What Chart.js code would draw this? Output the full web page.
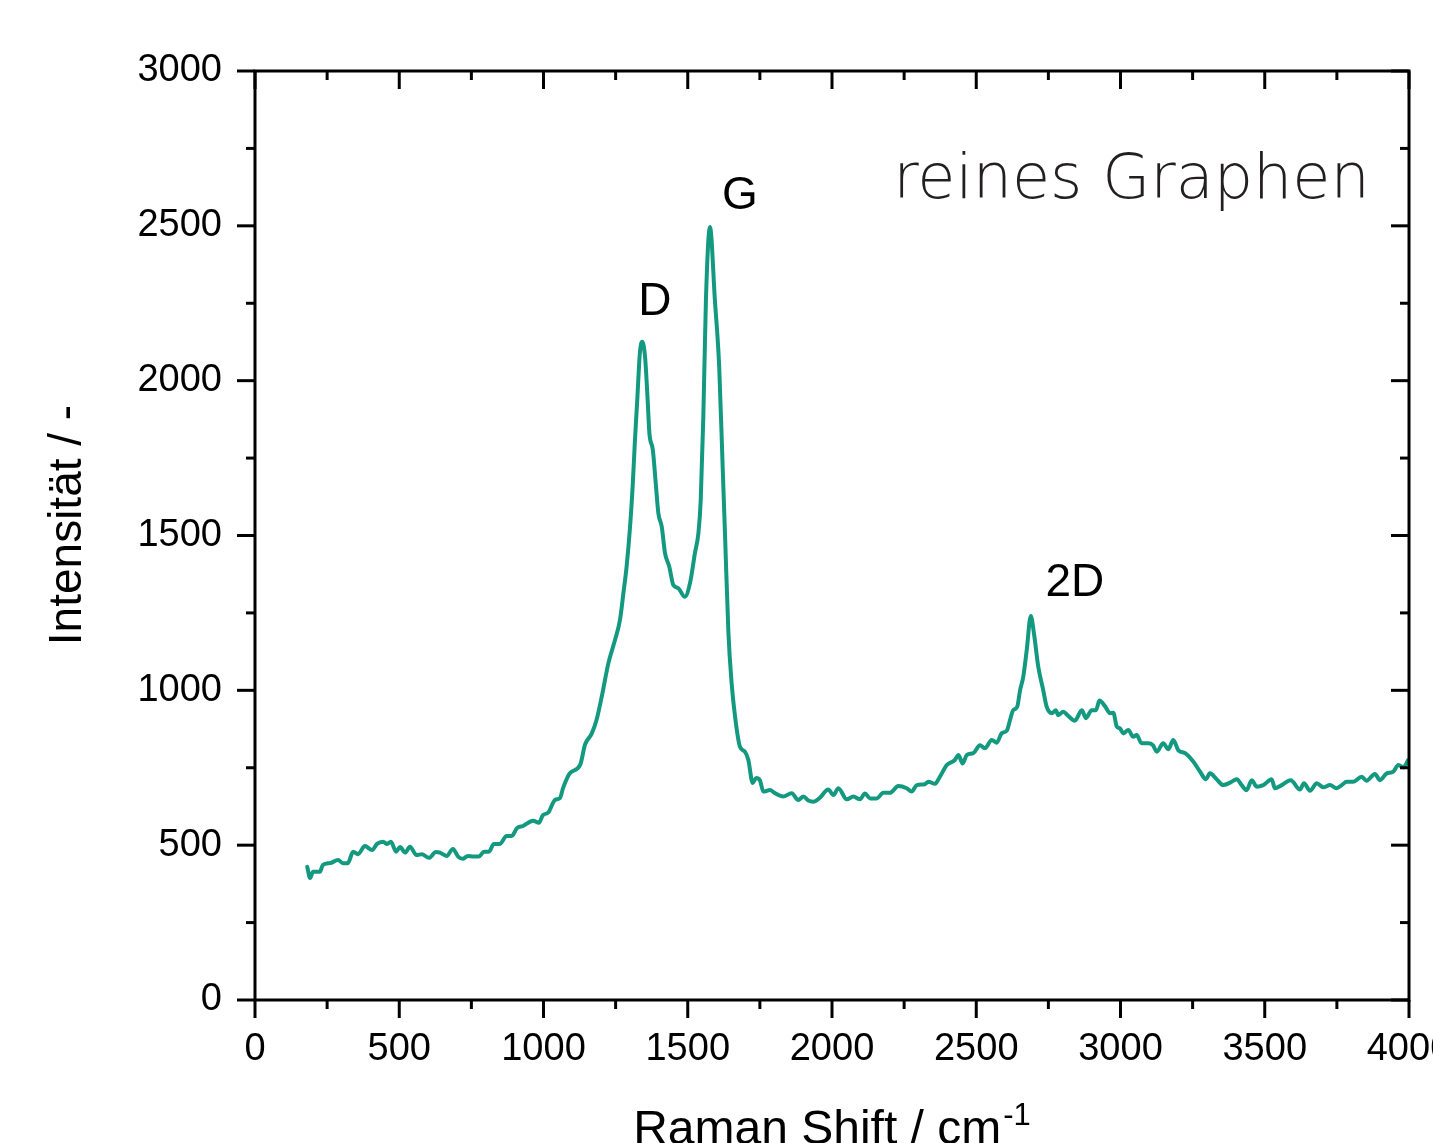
<!DOCTYPE html>
<html lang="de">
<head>
<meta charset="utf-8">
<title>Raman-Spektrum reines Graphen</title>
<script src="https://cdn.jsdelivr.net/npm/chart.js@4.4.1/dist/chart.umd.min.js"></script>
<style>
    html, body { margin: 0; padding: 0; background: #fff; overflow: hidden; }
    #wrap { width: 1480px; height: 1160px; }
</style>
</head>
<body>
<div id="wrap"><canvas id="ramanChart" width="1480" height="1160"></canvas></div>
<script>
// Raman shift (cm^-1) and intensity
const ramanShift = [
    181, 191, 201, 225, 235, 260, 288, 305, 322, 340, 357, 381, 406, 423, 444, 458, 471, 489, 503, 520,
    537, 560, 578, 603, 627, 641, 664, 686, 704, 720, 738, 756, 776, 794, 811, 828, 849, 872, 890, 908,
    929, 964, 984, 998, 1016, 1040, 1057, 1068, 1092, 1127, 1144, 1167, 1184, 1202, 1225, 1248, 1265, 1277, 1288, 1300,
    1309, 1317, 1325, 1334, 1342, 1352, 1361, 1367, 1379, 1390, 1398, 1410, 1421, 1436, 1450, 1467, 1490, 1508, 1525, 1537,
    1545, 1554, 1563, 1577, 1594, 1609, 1621, 1629, 1641, 1652, 1664, 1681, 1698, 1710, 1725, 1737, 1750, 1762, 1785, 1802,
    1831, 1860, 1883, 1901, 1918, 1935, 1958, 1987, 2005, 2022, 2051, 2074, 2097, 2114, 2132, 2155, 2178, 2201, 2230, 2259,
    2276, 2294, 2322, 2334, 2357, 2374, 2398, 2426, 2438, 2453, 2467, 2490, 2513, 2530, 2554, 2571, 2588, 2606, 2617, 2628,
    2642, 2652, 2663, 2675, 2689, 2700, 2715, 2732, 2744, 2762, 2776, 2784, 2802, 2816, 2842, 2866, 2880, 2900, 2915, 2927,
    2946, 2964, 2975, 2987, 2998, 3010, 3027, 3044, 3056, 3073, 3096, 3112, 3126, 3148, 3166, 3183, 3200, 3224, 3252, 3276,
    3296, 3310, 3333, 3356, 3380, 3403, 3420, 3437, 3455, 3472, 3495, 3524, 3535, 3559, 3590, 3622, 3636, 3657, 3680, 3703,
    3726, 3749, 3767, 3784, 3807, 3836, 3853, 3882, 3899, 3923, 3945, 3963, 3980, 3997
];
const intensity = [
    430, 394, 414, 414, 436, 442, 452, 442, 442, 479, 471, 497, 484, 504, 511, 504, 511, 479, 494, 476,
    495, 468, 471, 459, 478, 476, 465, 488, 463, 456, 465, 463, 463, 479, 479, 504, 504, 530, 530, 555,
    562, 579, 572, 597, 605, 646, 652, 685, 733, 759, 825, 860, 905, 980, 1088, 1163, 1227, 1314, 1399, 1528,
    1658, 1808, 1938, 2089, 2126, 2077, 1938, 1831, 1776, 1658, 1573, 1528, 1444, 1399, 1340, 1330, 1302, 1347, 1444, 1508,
    1615, 1884, 2261, 2496, 2261, 2045, 1722, 1508, 1185, 1024, 915, 818, 802, 775, 701, 717, 710, 673, 678, 668,
    657, 668, 646, 657, 644, 640, 653, 680, 662, 684, 648, 657, 648, 667, 651, 651, 669, 669, 691, 684,
    673, 694, 697, 705, 698, 721, 759, 775, 791, 764, 791, 797, 823, 813, 840, 831, 861, 870, 904, 936,
    947, 1001, 1044, 1130, 1240, 1184, 1076, 1001, 947, 926, 936, 920, 931, 920, 902, 936, 910, 936, 936, 967,
    949, 926, 928, 883, 877, 861, 872, 850, 856, 829, 829, 823, 802, 829, 810, 840, 807, 797, 770, 737,
    713, 732, 713, 694, 702, 713, 694, 678, 710, 689, 694, 713, 684, 694, 710, 680, 700, 676, 700, 687,
    694, 684, 694, 705, 705, 721, 708, 730, 710, 732, 737, 759, 751, 775
];

// axis ticks
const xTickValues = [0, 500, 1000, 1500, 2000, 2500, 3000, 3500, 4000];
const yTickValues = [0, 500, 1000, 1500, 2000, 2500, 3000];
const xMinorStep = 250;
const yMinorStep = 250;

// peak annotations (label, shift, intensity of label centre)
const peakNames = ['D', 'G', '2D'];
const peakLabelX = [1386, 1681, 2842];
const peakLabelY = [2254, 2596, 1347];

const sampleName = 'reines Graphen';
const sampleX = 3038;
const sampleY = 2590;

const FONT = "'Liberation Sans', Arial, Helvetica, sans-serif";
const lineColor = '#12997f';

const framePlugin = {
    id: 'frame',
    afterDatasetsDraw(chart) {
        const { ctx, chartArea: a, scales: { x, y } } = chart;
        ctx.save();
        ctx.strokeStyle = '#000';
        ctx.lineWidth = 3;
        ctx.lineCap = 'butt';

        function seg(x1, y1, x2, y2) {
            ctx.beginPath();
            ctx.moveTo(x1, y1);
            ctx.lineTo(x2, y2);
            ctx.stroke();
        }

        ctx.strokeRect(a.left, a.top, a.right - a.left, a.bottom - a.top);

        for (let v = x.min; v <= x.max; v += xMinorStep) {
            const px = x.getPixelForValue(v);
            const len = xTickValues.includes(v) ? 18 : 9;
            seg(px, a.bottom, px, a.bottom + len); // outward at bottom
            seg(px, a.top, px, a.top + len);       // inward at top
        }
        for (let v = y.min; v <= y.max; v += yMinorStep) {
            const py = y.getPixelForValue(v);
            const len = yTickValues.includes(v) ? 18 : 9;
            seg(a.left, py, a.left - len, py);     // outward at left
            seg(a.right, py, a.right - len, py);   // inward at right
        }

        // peak labels
        ctx.fillStyle = '#000';
        ctx.font = '46px ' + FONT;
        ctx.textAlign = 'center';
        ctx.textBaseline = 'middle';
        peakNames.forEach((name, i) => {
            ctx.fillText(name, x.getPixelForValue(peakLabelX[i]), y.getPixelForValue(peakLabelY[i]));
        });

        // sample name
        ctx.fillStyle = '#231f20';
        ctx.font = '200 62px "DejaVu Sans", sans-serif';
        ctx.textBaseline = 'alphabetic';
        ctx.fillText(sampleName, x.getPixelForValue(sampleX), y.getPixelForValue(sampleY));

        // y axis title
        ctx.fillStyle = '#000';
        ctx.font = '46px ' + FONT;
        ctx.save();
        ctx.translate(68, 525);
        ctx.rotate(-Math.PI / 2);
        ctx.textAlign = 'center';
        ctx.textBaseline = 'middle';
        ctx.fillText('Intensität / -', 0, 0);
        ctx.restore();

        // x axis title with superscript
        const main = 'Raman Shift / cm';
        const sup = '-1';
        ctx.textAlign = 'left';
        ctx.textBaseline = 'alphabetic';
        ctx.font = '48px ' + FONT;
        const wMain = ctx.measureText(main).width;
        ctx.font = '31px ' + FONT;
        const wSup = ctx.measureText(sup).width;
        const cx = (a.left + a.right) / 2;
        const startX = cx - (wMain + wSup + 2) / 2;
        ctx.font = '48px ' + FONT;
        ctx.fillText(main, startX, 1144);
        ctx.font = '31px ' + FONT;
        ctx.fillText(sup, startX + wMain + 2, 1125);

        ctx.restore();
    }
};

const ctx = document.getElementById('ramanChart').getContext('2d');
new Chart(ctx, {
    type: 'line',
    data: {
        datasets: [{
            data: ramanShift.map((s, i) => ({ x: s, y: intensity[i] })),
            borderColor: lineColor,
            borderWidth: 4,
            pointRadius: 0,
            cubicInterpolationMode: 'monotone',
            borderJoinStyle: 'round',
            borderCapStyle: 'round',
            fill: false
        }]
    },
    options: {
        responsive: false,
        devicePixelRatio: 1,
        animation: false,
        layout: { padding: { left: 0, top: 71, right: 71, bottom: 0 } },
        plugins: {
            legend: { display: false },
            tooltip: { enabled: false }
        },
        scales: {
            x: {
                type: 'linear',
                position: 'bottom',
                min: 0,
                max: 4000,
                grid: { display: false, drawTicks: false },
                border: { display: false },
                ticks: {
                    color: '#000',
                    font: { family: FONT, size: 38 },
                    padding: 27,
                    maxRotation: 0,
                    autoSkip: false,
                    callback: v => String(v)
                },
                afterBuildTicks: s => { s.ticks = xTickValues.map(v => ({ value: v })); },
                afterFit: s => { s.height = 160; }
            },
            y: {
                type: 'linear',
                position: 'left',
                min: 0,
                max: 3000,
                grid: { display: false, drawTicks: false },
                border: { display: false },
                ticks: {
                    color: '#000',
                    font: { family: FONT, size: 38 },
                    padding: 33,
                    autoSkip: false,
                    callback: v => String(v)
                },
                afterBuildTicks: s => { s.ticks = yTickValues.map(v => ({ value: v })); },
                afterFit: s => { s.width = 255; }
            }
        }
    },
    plugins: [framePlugin]
});
</script>
</body>
</html>
